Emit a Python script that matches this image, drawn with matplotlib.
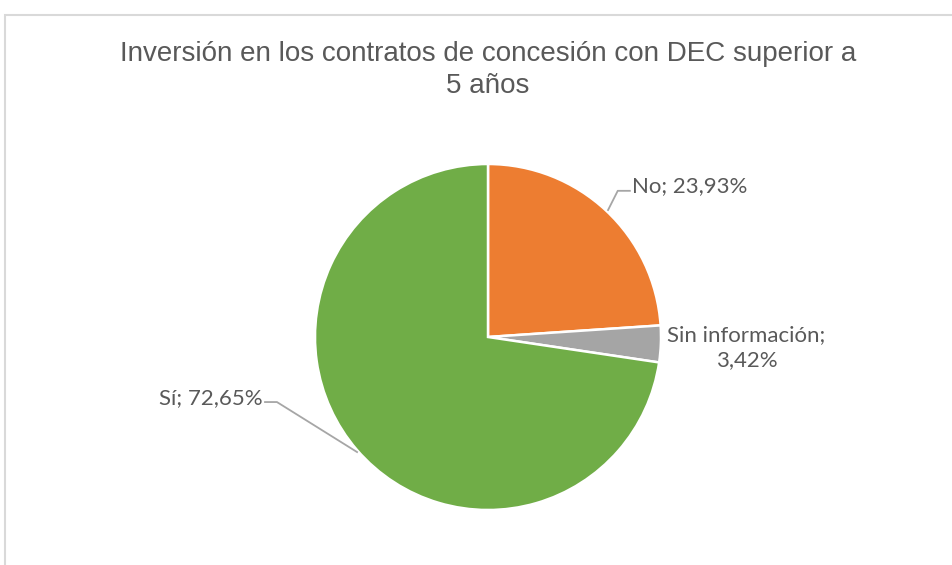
import matplotlib.pyplot as plt
from matplotlib.patches import Rectangle

TITLE = "Inversión en los contratos de concesión con DEC superior a\n5 años"
LABELS = ["No", "Sin información", "Sí"]
VALUES = [23.93, 3.42, 72.65]
COLORS = ["#ED7D31", "#A5A5A5", "#70AD47"]

TEXT_COLOR = "#595959"
LEADER_COLOR = "#A6A6A6"


def fmt(v):
    return f"{v:.2f}".replace(".", ",") + "%"


def main():
    fig = plt.figure(figsize=(9.52, 5.65), dpi=100)
    # pie centre at pixel (488, 337), radius 173 px
    ax = fig.add_axes([0, 0, 1, 1])

    # chart frame (only top and left show in the crop)
    fig.patches.append(Rectangle((5 / 952, -0.1), 1.2, (565 - 15) / 565 + 0.1,
                                 transform=fig.transFigure, fill=False,
                                 edgecolor="#D9D9D9", linewidth=1.5))

    ax.pie(VALUES, colors=COLORS, startangle=90, counterclock=False,
           radius=1.0, center=(0, 0), frame=True,
           wedgeprops=dict(edgecolor="white", linewidth=1.8))
    ax.set_xlim(-488 / 173, (952 - 488) / 173)
    ax.set_ylim(-(565 - 337) / 173, 337 / 173)
    ax.set_aspect("auto")
    ax.axis("off")

    fig.text(488 / 952, 1 - 70 / 565, TITLE, ha="center", va="center",
             fontsize=20, color=TEXT_COLOR, family="Liberation Sans",
             linespacing=1.3)

    lbl_font = dict(fontsize=16, color=TEXT_COLOR, family="Lato")

    # No
    ax.plot([0.694, 0.75, 0.82], [0.734, 0.845, 0.845], color=LEADER_COLOR, lw=1.3)
    ax.text(0.83, 0.872, f"{LABELS[0]}; {fmt(VALUES[0])}", ha="left", va="center", **lbl_font)

    # Sin informacion
    ax.text(1.494, -0.061, f"{LABELS[1]};\n{fmt(VALUES[1])}", ha="center", va="center",
            linespacing=1.3, **lbl_font)

    # Si
    ax.plot([-1.289, -1.220, -0.757], [-0.376, -0.376, -0.665], color=LEADER_COLOR, lw=1.3)
    ax.text(-1.300, -0.352, f"{LABELS[2]}; {fmt(VALUES[2])}", ha="right", va="center", **lbl_font)

    fig.savefig("out.png", dpi=100)
    plt.close(fig)


if __name__ == "__main__":
    main()
